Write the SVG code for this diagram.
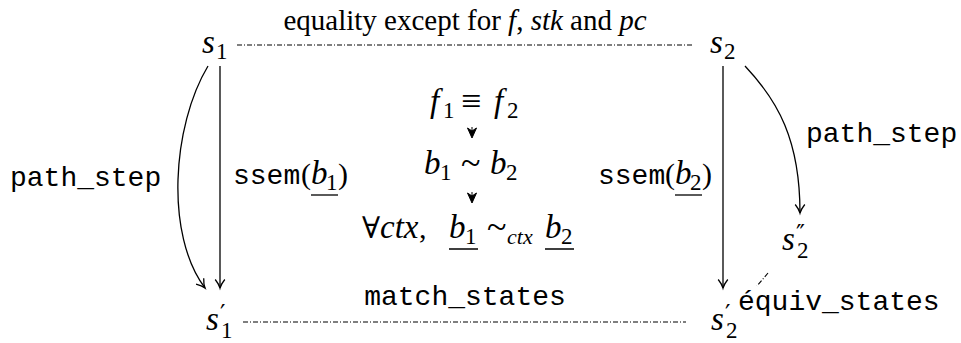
<svg xmlns="http://www.w3.org/2000/svg" width="961" height="343" viewBox="0 0 961 343">
<style>
.m{font-family:"Liberation Serif","Times New Roman","DejaVu Serif",serif;font-size:33px;fill:#000}
.t{font-size:29px}
.i{font-style:italic}
.s{font-size:23px;font-style:normal}
.p{font-size:30px;font-style:normal}
.big{font-size:36px;font-style:normal}
.pr{font-family:"DejaVu Serif",serif;font-size:24px;font-style:normal}
.tt{font-family:"Liberation Mono","DejaVu Sans Mono",monospace;font-size:28px;fill:#000}
.arr{fill:none;stroke:#000;stroke-width:1.3;marker-end:url(#to)}
.dd{fill:none;stroke:#000;stroke-width:1.1;stroke-dasharray:5 2 1 2}
.ul{stroke:#000;stroke-width:1.3}
.sh{fill:#000;stroke:#000;stroke-width:1}
</style>
<defs>
<marker id="to" markerUnits="userSpaceOnUse" viewBox="-10 -6 11 12" refX="0" refY="0" markerWidth="11" markerHeight="12" orient="auto" overflow="visible">
<path d="M-8.5,-4.8 C-5,-2 -1.5,-0.4 0,0 C-1.5,0.4 -5,2 -8.5,4.8" fill="none" stroke="#000" stroke-width="1.3"/>
</marker>
</defs>

<g id="connectors">
<path class="dd" d="M237,45 H694"/>
<path class="dd" d="M243,322 H686"/>
<path class="dd" d="M768,273 L757,286"/>
<path class="arr" d="M220,66 V288"/>
<path class="arr" d="M208,66 C172,126 165,235 205,288"/>
<path class="arr" d="M723,66 V288"/>
<path class="arr" d="M745,66 C778,101 800,140 800,213"/>
<path class="sh" d="M472,127 V131"/>
<path class="sh" d="M472,138 L467.5,128 L472,131 L476.5,128 Z"/>
<path class="sh" d="M472,192 V196"/>
<path class="sh" d="M472,203 L467.5,193 L472,196 L476.5,193 Z"/>
</g>

<g id="label-top">
<text class="m t" x="465" y="30" text-anchor="middle">equality except for <tspan class="i">f</tspan>, <tspan class="i">stk</tspan> and <tspan class="i">pc</tspan></text>
</g>

<g id="s1">
<text class="m"><tspan class="i" x="202" y="53">s</tspan><tspan class="s" x="216" y="59">1</tspan></text>
</g>
<g id="s2">
<text class="m"><tspan class="i" x="710" y="53">s</tspan><tspan class="s" x="724" y="59">2</tspan></text>
</g>
<g id="s1p">
<text class="m"><tspan class="i" x="206" y="330">s</tspan><tspan class="s" x="221" y="338">1</tspan><tspan class="pr" x="220" y="322">′</tspan></text>
</g>
<g id="s2p">
<text class="m"><tspan class="i" x="711" y="330">s</tspan><tspan class="s" x="726" y="338">2</tspan><tspan class="pr" x="725" y="322">′</tspan></text>
</g>
<g id="s2pp">
<text class="m"><tspan class="i" x="782" y="250">s</tspan><tspan class="s" x="797" y="258">2</tspan><tspan class="pr" x="796" y="242">″</tspan></text>
</g>

<g id="center">
<text class="m"><tspan class="i" x="430" y="112">f</tspan><tspan class="s" x="443" y="118">1</tspan><tspan class="big" x="461" y="113">≡</tspan><tspan class="i" x="494" y="112">f</tspan><tspan class="s" x="507" y="118">2</tspan></text>
<text class="m"><tspan class="i" x="424" y="174">b</tspan><tspan class="s" x="440" y="180">1</tspan><tspan class="big" x="461" y="175">~</tspan><tspan class="i" x="490" y="174">b</tspan><tspan class="s" x="506" y="180">2</tspan></text>
<text class="m"><tspan class="p" x="362" y="238">∀</tspan><tspan class="i" x="380" y="238">ctx</tspan><tspan class="p" x="419" y="238">,</tspan><tspan class="i" x="449" y="238">b</tspan><tspan class="s" x="465" y="244">1</tspan><tspan class="big" x="487" y="239">~</tspan><tspan class="i" x="507" y="244" style="font-size:22px">ctx</tspan><tspan class="i" x="545" y="238">b</tspan><tspan class="s" x="561" y="244">2</tspan></text>
<path class="ul" d="M449,249 H478 M545,249 H574"/>
</g>

<g id="label-path-step-left">
<text class="tt" x="10" y="186">path_step</text>
</g>
<g id="label-ssem1">
<text class="m"><tspan class="tt" x="233" y="184">ssem</tspan><tspan class="p" x="301" y="184">(</tspan><tspan class="i" x="311" y="184">b</tspan><tspan class="s" x="326" y="190">1</tspan><tspan class="p" x="338" y="184">)</tspan></text>
<path class="ul" d="M311,195 H338"/>
</g>
<g id="label-ssem2">
<text class="m"><tspan class="tt" x="598" y="184">ssem</tspan><tspan class="p" x="665" y="184">(</tspan><tspan class="i" x="675" y="184">b</tspan><tspan class="s" x="690" y="190">2</tspan><tspan class="p" x="702" y="184">)</tspan></text>
<path class="ul" d="M675,195 H702"/>
</g>
<g id="label-path-step-right">
<text class="tt" x="806" y="142">path_step</text>
</g>
<g id="label-match">
<text class="tt" x="465" y="305" text-anchor="middle">match_states</text>
</g>
<g id="label-equiv">
<text class="tt" x="738" y="310">équiv_states</text>
</g>
</svg>
